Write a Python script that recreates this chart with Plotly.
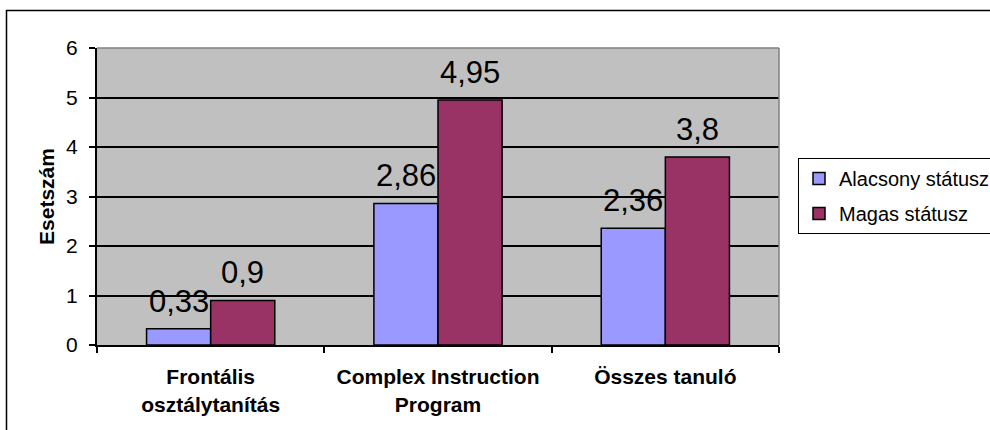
import plotly.graph_objects as go

# Data
categories = ["Frontális osztálytanítás", "Complex Instruction Program", "Összes tanuló"]
category_labels = ["Frontális<br>osztálytanítás", "Complex Instruction<br>Program", "Összes tanuló"]
alacsony = [0.33, 2.86, 2.36]
magas = [0.9, 4.95, 3.8]
series_names = ["Alacsony státusz", "Magas státusz"]
y_ticks = [0, 1, 2, 3, 4, 5, 6]

FONT = "Liberation Sans, Arial, sans-serif"
W, H = 990, 430
ML, MR, MT, MB = 97, 211, 48, 85
PLOT_W = W - ML - MR
PLOT_H = H - MT - MB

fig = go.Figure()
for name, vals, color, grp in [
    (series_names[0], alacsony, "#9999FF", "a"),
    (series_names[1], magas, "#993366", "b"),
]:
    fig.add_trace(go.Bar(
        x=categories, y=vals, name=name, legendgroup=grp,
        marker=dict(color=color, line=dict(color="black", width=1.5)),
    ))

# Value labels above each bar
def fmt(v):
    return f"{v:g}".replace(".", ",")

for vals, shift in [(alacsony, -32), (magas, 32)]:
    for c, v in zip(categories, vals):
        fig.add_annotation(
            x=c, y=v, xref="x", yref="y", text=fmt(v), showarrow=False,
            xshift=shift, yshift=8, yanchor="bottom",
            font=dict(family=FONT, size=31, color="black"),
        )

def px_x(p):
    return (p - ML) / PLOT_W

def px_y(p):
    return (H - MB - p) / PLOT_H

# Outer chart border
fig.add_shape(type="rect", xref="paper", yref="paper",
              x0=px_x(6.5), x1=px_x(1000), y0=px_y(10.5), y1=px_y(440),
              line=dict(color="black", width=1.5), fillcolor="rgba(0,0,0,0)", layer="above")
# Gray top and right edges of the plot area
fig.add_shape(type="line", xref="paper", yref="paper", x0=0, x1=1, y0=1, y1=1,
              line=dict(color="#808080", width=1.5), layer="above")
fig.add_shape(type="line", xref="paper", yref="paper", x0=1, x1=1, y0=0, y1=1,
              line=dict(color="#808080", width=1.5), layer="above")

fig.update_layout(
    width=W, height=H,
    margin=dict(l=ML, r=MR, t=MT, b=MB, autoexpand=False),
    paper_bgcolor="white", plot_bgcolor="#C0C0C0",
    barmode="group", bargap=0.436, bargroupgap=0,
    font=dict(family=FONT, color="black"),
    legend=dict(
        x=px_x(798), y=px_y(158), xanchor="left", yanchor="top",
        bordercolor="black", borderwidth=1, bgcolor="white",
        font=dict(family=FONT, size=20, color="black"),
        traceorder="grouped", tracegroupgap=6,
    ),
    xaxis=dict(
        tickmode="array", tickvals=categories, ticktext=category_labels,
        tickfont=dict(family=FONT, size=21, color="black", weight="bold"),
        showline=True, linecolor="black", linewidth=2,
        ticks="outside", ticklen=6, tickcolor="black", tickwidth=1.5,
        tickson="boundaries", ticklabelstandoff=12,
        showgrid=False,
    ),
    yaxis=dict(
        range=[0, 6], tickvals=y_ticks, ticktext=[str(t) for t in y_ticks],
        tickfont=dict(family=FONT, size=21, color="black"),
        showline=True, linecolor="black", linewidth=2,
        ticks="outside", ticklen=6, tickcolor="black", tickwidth=1.5,
        ticklabelstandoff=7,
        showgrid=True, gridcolor="black", gridwidth=1.5,
        zeroline=False,
        title=dict(text="<b>Esetszám</b>", font=dict(family=FONT, size=21, color="black"),
                   standoff=6),
    ),
)

fig.write_html("out.html")
